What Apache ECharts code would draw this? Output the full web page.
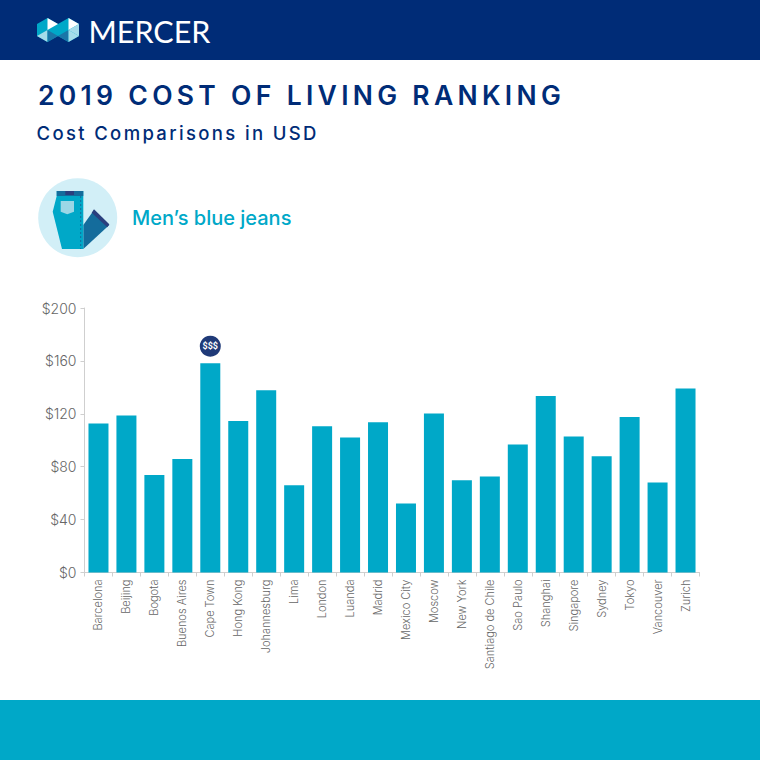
<!DOCTYPE html>
<html><head><meta charset="utf-8">
<style>
html,body{margin:0;padding:0;background:#fff}
#c{width:760px;height:760px}
svg text[style*="26.5px"]{letter-spacing:4.3px}
svg text[style*="18.5px"]{letter-spacing:2.35px}
</style>
<script src="https://cdn.jsdelivr.net/npm/echarts@6/dist/echarts.min.js"></script>
</head><body><div id="c"></div>
<script>
const cities=["Barcelona","Beijing","Bogota","Buenos Aires","Cape Town","Hong Kong","Johannesburg","Lima","London","Luanda","Madrid","Mexico City","Moscow","New York","Santiago de Chile","Sao Paulo","Shanghai","Singapore","Sydney","Tokyo","Vancouver","Zurich"];
const prices=[112.7,118.7,73.8,85.9,158.3,114.6,137.8,66,110.6,102,113.6,52.2,120.2,69.8,72.6,96.8,133.5,102.8,87.9,117.6,68,139.1];
const highlightCity="Cape Town";
const NAVY="#002c77",TEAL="#00a8c8";
const FONT="Inter";
function poly(points,fill){return {type:'polygon',shape:{points},style:{fill}};}
function txt(x,y,text,fontSize,fill,fontWeight,fontFamily){return {type:'text',x,y,style:{text,fontSize,fill,fontWeight:fontWeight||'normal',fontFamily:fontFamily||FONT,verticalAlign:'middle',align:'left'}};}
const graphics=[
 {type:'rect',shape:{x:0,y:0,width:760,height:60},style:{fill:NAVY}},
 {type:'rect',shape:{x:0,y:700,width:760,height:60},style:{fill:TEAL}},
 // logo
 poly([[37,24],[47.5,18],[58,24],[58,36],[47.5,42],[37,36]],TEAL),
 poly([[58,24],[68.5,18],[79,24],[79,36],[68.5,42],[58,36]],TEAL),
 poly([[47.5,18],[58,24],[47.5,30]],'#ffffff'),
 poly([[68.5,18],[79,24],[68.5,30]],'#ffffff'),
 poly([[37,36],[47.5,30],[47.5,42]],'#a5dcea'),
 poly([[47.5,30],[58,36],[47.5,42]],'#1a76a8'),
 poly([[58,36],[68.5,30],[68.5,42]],'#1a76a8'),
 poly([[68.5,30],[79,36],[68.5,42]],'#a5dcea'),
 poly([[68.5,30],[79,24],[79,36]],'#a5dcea'),
 txt(88.5,30.5,"MERCER",30.5,'#ffffff','normal','Lato'),
 txt(38,94.5,"2019 COST OF LIVING RANKING",26.5,NAVY,'600'),
 txt(36.5,133,"Cost Comparisons in USD",18.5,NAVY,'500'),
 // icon
 {type:'circle',shape:{cx:77.7,cy:217.7,r:39.5},style:{fill:'#d2eff7'}},
 poly([[83.3,225],[94,210],[109.3,225],[83.3,249]],'#146c9c'),
 poly([[94,209.3],[109.3,224.3],[107.3,227.3],[91.7,212.7]],'#2a3f7e'),
 poly([[56.7,191],[83.3,191],[83.3,249],[62,249],[52.7,211.7],[56.7,196]],TEAL),
 poly([[56.7,191],[83.3,191],[83.3,196],[56.7,196]],'#146c9c'),
 poly([[65.3,191],[74,191],[74,195],[65.3,195]],'#2a3f7e'),
 poly([[60.7,201],[74,201],[74,211.7],[67.3,214.3],[60.7,211.7]],'#9bd7e6'),
 {type:'line',shape:{x1:80.7,y1:196,x2:80.7,y2:249},style:{stroke:'#146c9c',lineWidth:1,lineDash:[2,2]}},
 txt(132,218,"Men\u2019s blue jeans",20,TEAL,'500'),
];
const chart=echarts.init(document.getElementById('c'),null,{renderer:'svg',width:760,height:760});
chart.setOption({
 animation:false,
 backgroundColor:'#ffffff',
 graphic:{elements:graphics},
 grid:{left:84.5,right:60.5,top:308,bottom:187.5,containLabel:false},
 xAxis:{type:'category',data:cities,
  axisLine:{lineStyle:{color:'#cfcfcf',width:1}},
  axisTick:{show:true,alignWithLabel:false,length:4,lineStyle:{color:'#cfcfcf'}},
  axisLabel:{rotate:90,interval:0,fontSize:11,fontWeight:300,color:'#666666',fontFamily:FONT,margin:7}},
 yAxis:{type:'value',min:0,max:200,interval:40,splitLine:{show:false},
  axisLine:{show:true,lineStyle:{color:'#cfcfcf',width:1}},
  axisTick:{show:true,length:4,lineStyle:{color:'#cfcfcf'}},
  axisLabel:{formatter:'${value}',fontSize:14,fontWeight:300,color:'#666666',fontFamily:FONT,margin:8}},
 series:[{type:'bar',data:prices,barWidth:20,itemStyle:{color:TEAL},
  markPoint:{symbol:'circle',symbolSize:21,symbolOffset:[0,-17],silent:true,
   itemStyle:{color:'#1f3a78'},
   label:{show:true,formatter:'$$$',color:'#fff',fontSize:9,fontWeight:'bold',fontFamily:'Roboto',position:'inside'},
   data:[{coord:[highlightCity,prices[cities.indexOf(highlightCity)]]}]}}]
});
</script></body></html>
